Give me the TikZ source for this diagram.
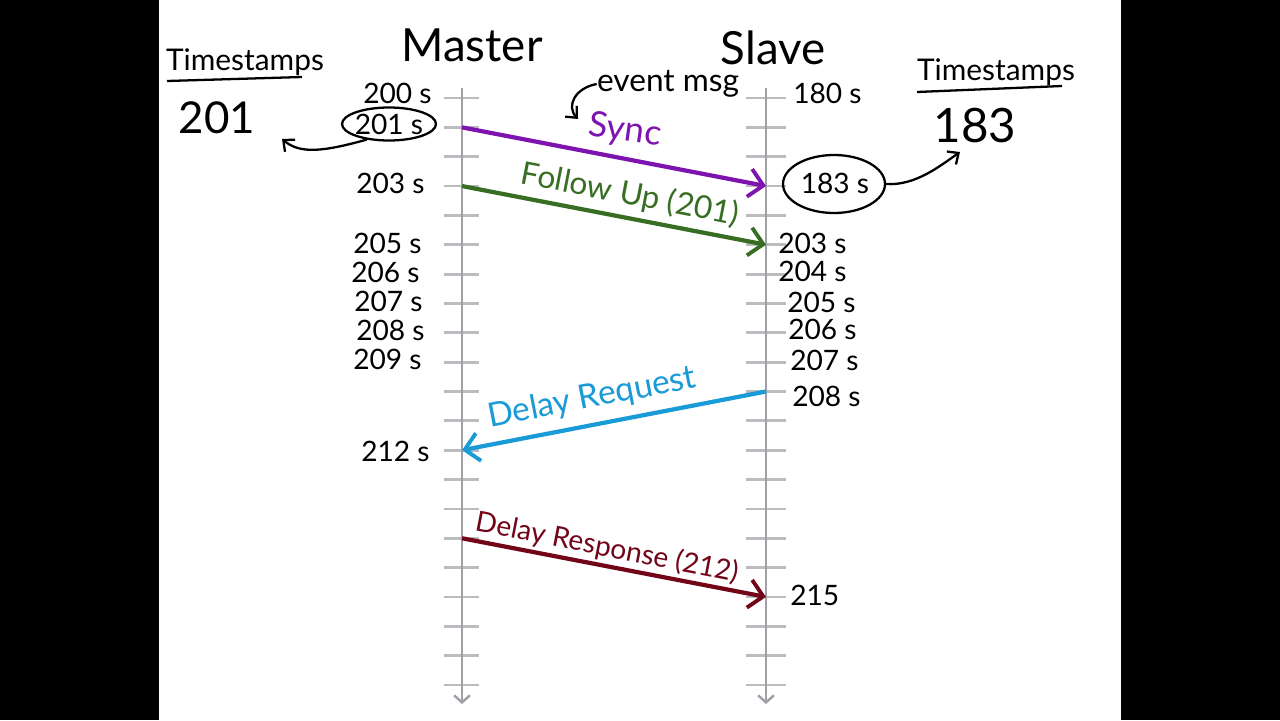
\documentclass[tikz,border=0pt]{standalone}
\usepackage{fontspec}
\setmainfont{Lato}
\usetikzlibrary{arrows.meta,shapes.geometric}
\definecolor{tlgray}{RGB}{160,160,166}
\definecolor{tkgray}{RGB}{188,188,192}
\definecolor{syncc}{RGB}{125,20,175}
\definecolor{fupc}{RGB}{55,110,35}
\definecolor{dreqc}{RGB}{25,155,215}
\definecolor{drspc}{RGB}{115,5,25}
\newcommand{\fsz}[1]{\fontsize{#1}{#1}\selectfont}
\begin{document}
\begin{tikzpicture}[x=0.02cm,y=-0.02cm,
  timeline/.style={draw=tlgray,line width=1.6pt,-{Straight Barb[length=4pt,width=9pt,line width=1.4pt]}},
  tickline/.style={draw=tkgray,line width=1.6pt},
  msg/.style={line width=2.4pt,-{Straight Barb[length=8pt,width=16pt,line width=2.2pt]}},
  hand/.style={black,line width=1.3pt,-{Straight Barb[length=5pt,width=9pt,line width=1.3pt]}},
  title/.style={inner sep=0pt,font=\fsz{26}},
  stamp/.style={inner sep=0pt,font=\fsz{17}},
  bignum/.style={inner sep=0pt,font=\fsz{25}},
  tl/.style={inner sep=0pt,font=\fsz{16}},
  tlL/.style={tl,anchor=east},
  tlR/.style={tl,anchor=west},
  mlabel/.style={inner sep=0pt,font=\fsz{18}},
  oval/.style={ellipse,draw=black,line width=1.3pt,inner sep=0pt}
]
\useasboundingbox (0,0) rectangle (1280,720);
\fill[black] (0,0) rectangle (1280,720);
\fill[white] (159,0) rectangle (1121,720);

% tick coordinates
\foreach \k in {0,...,20}{
  \coordinate (M\k) at (462,{98+29.35*\k});
  \coordinate (S\k) at (766,{98+29.35*\k});
  \draw[tickline] ([xshift=-18*0.02cm]M\k) -- ([xshift=17*0.02cm]M\k);
  \draw[tickline] ([xshift=-20*0.02cm]S\k) -- ([xshift=20*0.02cm]S\k);
}
\coordinate (Mtop) at (462,88);
\coordinate (Mbot) at (462,704);
\coordinate (Stop) at (766,88);
\coordinate (Sbot) at (766,704);
\draw[timeline] (Mtop) -- (Mbot);
\draw[timeline] (Stop) -- (Sbot);

% titles
\node[title] (master) at (472,45) {Master};
\node[title] (slave) at (773,48) {Slave};

% timestamps boxes
\node[stamp] (tsL) at (245,62) {Timestamps};
\coordinate (ulL1) at (167,81);
\coordinate (ulL2) at (302,77);
\draw[line width=1.3pt] (ulL1) -- (ulL2);
\node[bignum] (n201) at (217,118) {201};

\node[stamp] (tsR) at (996,72) {Timestamps};
\coordinate (ulR1) at (917,92);
\coordinate (ulR2) at (1062,86);
\draw[line width=1.3pt] (ulR1) -- (ulR2);
\node[bignum,font=\fsz{27}] (n183) at (975,126) {183};

% master labels
\node[tlL] (m200) at (432,93) {200 s};
\node[tl] (m201) at (389,124) {201 s};
\node[tlL] (m203) at (425,183) {203 s};
\node[tlL] (m205) at (422,243) {205 s};
\node[tlL] (m206) at (420,272) {206 s};
\node[tlL] (m207) at (423,301) {207 s};
\node[tlL] (m208) at (425,330) {208 s};
\node[tlL] (m209) at (422,359) {209 s};
\node[tlL] (m212) at (430,451) {212 s};

% slave labels
\node[tlR] (s180) at (793,93) {180 s};
\node[tl] (s183) at (835,183) {183 s};
\node[tlR] (s203) at (778,243) {203 s};
\node[tlR] (s204) at (778,271) {204 s};
\node[tlR] (s205) at (787,302) {205 s};
\node[tlR] (s206) at (788,329) {206 s};
\node[tlR] (s207) at (790,360) {207 s};
\node[tlR] (s208) at (792,396) {208 s};
\node[tlR] (s215) at (790,595) {215};

% ovals
\node[oval,minimum width=94*0.02cm,minimum height=33*0.02cm] (o201) at (389,124) {};
\node[oval,minimum width=102*0.02cm,minimum height=58*0.02cm] (o183) at (834,184) {};

% curved hand arrows
\coordinate (tipL) at (282,139);
\draw[hand] (o201.215) .. controls (322,152) and (300,154) .. (tipL);
\coordinate (tipR) at (960,152);
\draw[hand] (o183.east) .. controls (915,186) and (940,166) .. (tipR);

% event msg
\node[mlabel] (evt) at (668,84) {event msg};
\coordinate (evtip) at (578,119);
\draw[hand] (evt.west) .. controls (575,88) and (566,106) .. (evtip);

% messages
\draw[msg,syncc] (M1) -- (S3);
\node[mlabel,syncc,font=\fsz{20},rotate=-8] (syncl) at (625,131) {Sync};

\draw[msg,fupc] (M3) -- (S5);
\node[mlabel,fupc,rotate=-11] (fupl) at (630,195) {Follow Up (201)};

\draw[msg,dreqc] (S10) -- (M12);
\node[mlabel,dreqc,font=\fsz{19},rotate=11] (dreql) at (592,398) {Delay Request};

\draw[msg,drspc] (M15) -- (S17);
\node[mlabel,drspc,font=\fsz{16},rotate=-11] (drspl) at (607,548) {Delay Response (212)};
\end{tikzpicture}
\end{document}
